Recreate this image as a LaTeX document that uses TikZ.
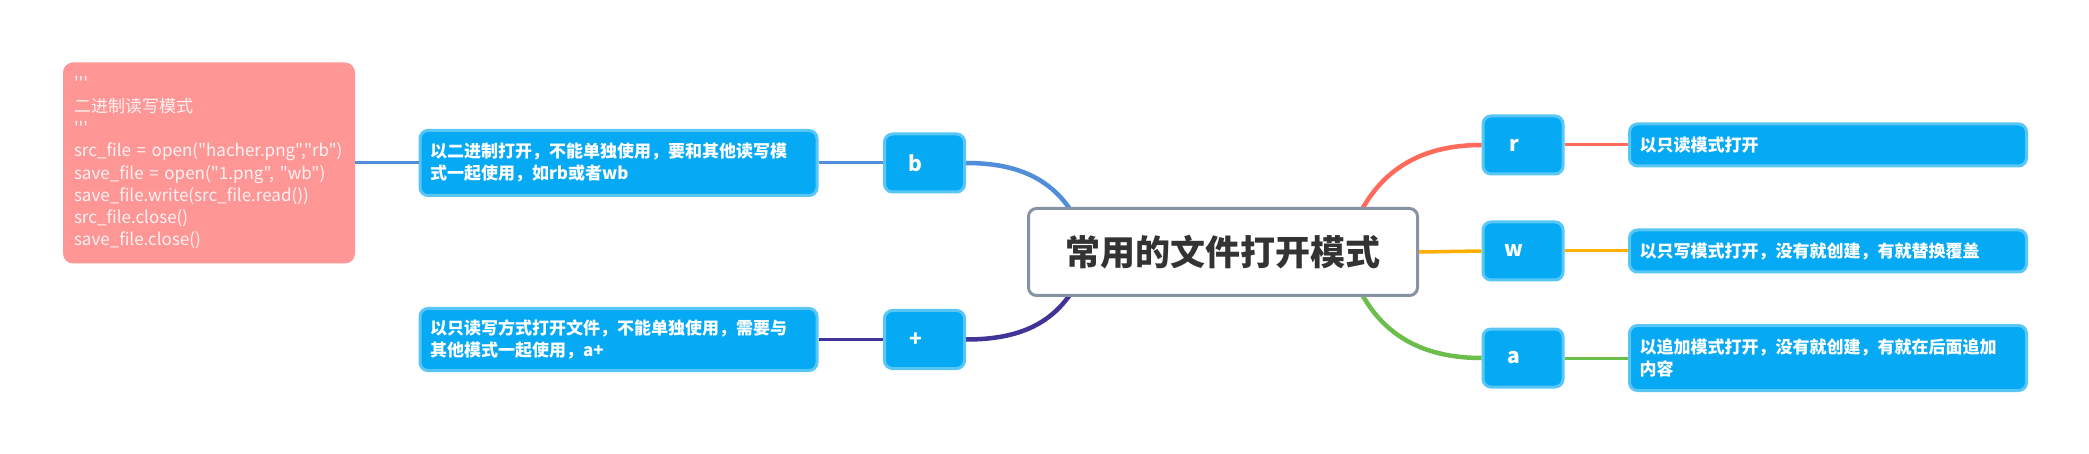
\documentclass[tikz,border=0pt]{standalone}
\usepackage{fontspec}
\setmainfont{Noto Sans CJK SC}
\newfontfamily\notefont{Noto Sans CJK SC}
\usetikzlibrary{positioning, backgrounds}

\definecolor{boxfill}{RGB}{6,169,244}
\definecolor{boxline}{RGB}{88,199,248}
\definecolor{notefill}{RGB}{255,150,150}
\definecolor{notetext}{RGB}{255,242,242}
\definecolor{coreline}{RGB}{135,146,164}
\definecolor{coretext}{RGB}{51,51,51}
\definecolor{bcol}{RGB}{80,142,218}
\definecolor{pcol}{RGB}{64,52,150}
\definecolor{rcol}{RGB}{255,106,90}
\definecolor{wcol}{RGB}{255,175,0}
\definecolor{acol}{RGB}{108,190,76}

\begin{document}
\begin{tikzpicture}[x=1pt, y=1pt,
    modebox/.style={draw=boxline, fill=boxfill, line width=3pt, rounded corners=8pt,
        minimum width=80pt, minimum height=58pt, text=white,
        font=\fontsize{21}{24}\selectfont\bfseries, execute at end node=\hspace{18pt}},
    descbox/.style={draw=boxline, fill=boxfill, line width=3pt, rounded corners=8pt,
        minimum width=397pt, text width=377pt, inner xsep=10pt, align=left, text=white,
        font=\fontsize{17}{22}\selectfont\bfseries},
    branch/.style={line width=3pt},
    curve/.style={line width=4.5pt}]
    \useasboundingbox (0,0) rectangle (2089,453);

    % Central topic
    \node[draw=coreline, fill=white, line width=3pt, rounded corners=8pt,
        minimum width=389pt, minimum height=87pt, text=coretext,
        font=\fontsize{35}{42}\selectfont\bfseries] (core) at (1223,201) {常用的文件打开模式};
    \coordinate (hubL) at (1090,201);
    \coordinate (hubR) at (1345,201);

    % Right modes
    \node[modebox] (r) at (1523,308) {r};
    \node[modebox] (w) at (1523,202) {w};
    \node[modebox] (a) at (1523,95) {a};
    \node[descbox, minimum height=42pt] (rdesc) at (1828,308) {以只读模式打开};
    \node[descbox, minimum height=42pt] (wdesc) at (1828,202) {以只写模式打开，没有就创建，有就替换覆盖};
    \node[descbox, minimum height=65pt] (adesc) at (1828,95) {以追加模式打开，没有就创建，有就在后面追加\\内容};

    % Left modes
    \node[modebox] (b) at (924.5,290) {b};
    \node[modebox] (plus) at (924.5,113.5) {+};
    \node[descbox, minimum height=65pt] (bdesc) at (618.5,290) {以二进制打开，不能单独使用，要和其他读写模\\式一起使用，如rb或者wb};
    \node[descbox, minimum height=62pt] (pdesc) at (618.5,113.5) {以只读写方式打开文件，不能单独使用，需要与\\其他模式一起使用，a+};

    % Note
    \node[fill=notefill, rounded corners=10pt, minimum width=292pt, minimum height=201pt,
        text width=270pt, inner xsep=11pt, align=left, text=notetext,
        font=\notefont\fontsize{17}{22.3}\selectfont] (note) at (209,290)
        {'''\\二进制读写模式\\'''\\src\_file = open("hacher.png","rb")\\save\_file = open("1.png", "wb")\\save\_file.write(src\_file.read())\\src\_file.close()\\save\_file.close()};

    % Branches
    \begin{scope}[on background layer]
        \fill[white] (0,0) rectangle (2089,453);
        \draw[curve, rcol] (r.west) .. controls +(-72,0) and +(20,72) .. (hubR);
        \draw[curve, acol] (a.west) .. controls +(-72,0) and +(20,-72) .. (hubR);
        \draw[branch, wcol, line width=3.5pt] (core.east) -- (w.west);
        \draw[curve, bcol] (b.east) .. controls +(65,0) and +(-20,64) .. (hubL);
        \draw[curve, pcol] (plus.east) .. controls +(65,0) and +(-20,-64) .. (hubL);
    \end{scope}
    \draw[branch, rcol] (r.east) -- (rdesc.west);
    \draw[branch, wcol] (w.east) -- (wdesc.west);
    \draw[branch, acol] (a.east) -- (adesc.west);
    \draw[branch, bcol] (bdesc.east) -- (b.west);
    \draw[branch, bcol] (note.east) -- (bdesc.west);
    \draw[branch, pcol] (pdesc.east) -- (plus.west);
\end{tikzpicture}
\end{document}
